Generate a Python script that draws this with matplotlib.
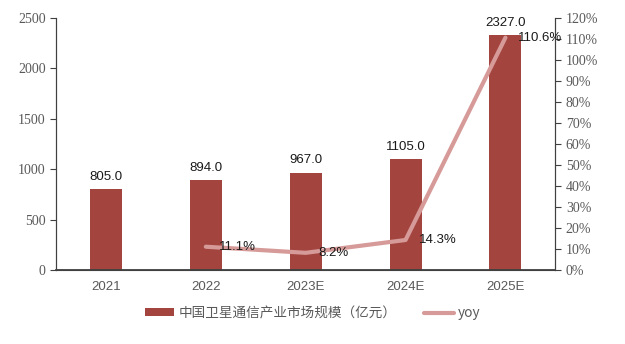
import matplotlib.pyplot as plt
import numpy as np

# 数据
years = ["2021", "2022", "2023E", "2024E", "2025E"]
scale = [805.0, 894.0, 967.0, 1105.0, 2327.0]
yoy_years = ["2022", "2023E", "2024E", "2025E"]
yoy = [11.1, 8.2, 14.3, 110.6]

bar_color = "#A3443F"
line_color = "#D69A98"
tick_color = "#595959"

fig = plt.figure(figsize=(6.25, 3.44), dpi=100)
ax = fig.add_axes([0.0896, 0.215, 0.799, 0.733])
ax2 = ax.twinx()

x = np.arange(len(years))
bars = ax.bar(x, scale, width=0.32, color=bar_color, label="中国卫星通信产业市场规模（亿元）", zorder=2)
for xi, v in zip(x, scale):
    ax.text(xi, v + 60, f"{v:.1f}", ha="center", va="bottom", fontsize=9.5,
            family="Liberation Sans", color="#1a1a1a")

xl = [years.index(y) for y in yoy_years]
line, = ax2.plot(xl, yoy, color=line_color, lw=3, label="yoy", solid_capstyle="round", zorder=3)
for xi, v in zip(xl, yoy):
    ax2.text(xi + 0.13, v, f"{v:.1f}%", ha="left", va="center", fontsize=9.5,
             family="Liberation Sans", color="#1a1a1a")

ax.set_xlim(-0.5, 4.5)
ax.set_ylim(0, 2500)
ax.set_yticks(range(0, 2501, 500))
ax2.set_ylim(0, 120)
ax2.set_yticks(range(0, 121, 10))
ax2.set_yticklabels([f"{t}%" for t in range(0, 121, 10)])

ax.set_xticks(x)
ax.set_xticklabels(years, family="Liberation Sans", fontsize=9.5, color=tick_color)
for lab in ax.get_yticklabels() + ax2.get_yticklabels():
    lab.set_family("Liberation Serif")
    lab.set_fontsize(10)
    lab.set_color(tick_color)

ax.spines["top"].set_visible(False)
ax2.spines["top"].set_visible(False)
for a in (ax, ax2):
    for s in ("left", "right", "bottom"):
        a.spines[s].set_color("#404040")
ax.spines["bottom"].set_linewidth(1.3)
ax.tick_params(axis="x", length=0, pad=8)
ax.tick_params(axis="y", length=4, color="#404040")
ax2.tick_params(axis="y", length=4, color="#404040")

handles = [bars, line]
labels = [h.get_label() for h in handles]
leg = fig.legend(handles, labels, loc="center", bbox_to_anchor=(0.5, 0.09), ncol=2,
                 frameon=False, handlelength=2.2, handleheight=0.5, handletextpad=0.3,
                 columnspacing=2.0,
                 prop={"family": ["Noto Sans CJK SC", "DejaVu Sans"], "size": 9.8})
for t in leg.get_texts():
    t.set_color(tick_color)

fig.savefig("out.png", dpi=100)
